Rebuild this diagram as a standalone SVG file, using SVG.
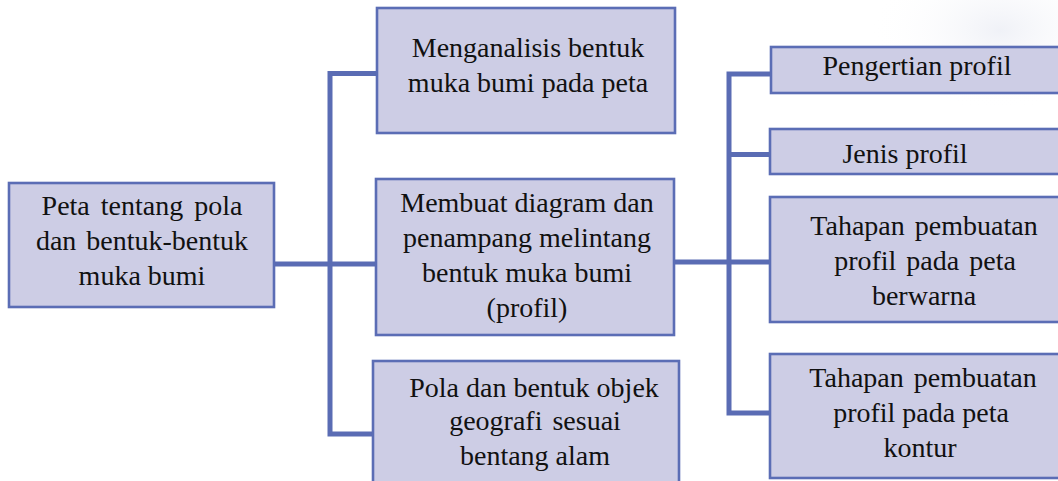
<svg xmlns="http://www.w3.org/2000/svg" width="1058" height="481" viewBox="0 0 1058 481">
<defs>
<radialGradient id="bg" cx="0.5" cy="0.5" r="0.5">
<stop offset="0" stop-color="#eceef5" stop-opacity="0.8"/>
<stop offset="1" stop-color="#ffffff" stop-opacity="0"/>
</radialGradient>
<style>
.box{fill:#cdcde5;stroke:#5b6db5;stroke-width:2.6}
.con{fill:none;stroke:#5a6cb4;stroke-width:5;stroke-linejoin:miter;stroke-linecap:butt}
</style>
</defs>
<rect width="1058" height="481" fill="#ffffff"/>
<ellipse cx="1000" cy="30" rx="130" ry="80" fill="url(#bg)"/>
<g id="connectors">
<path class="con" d="M274 264 H376"/>
<path class="con" d="M377 73.5 H330 V434 H373"/>
<path class="con" d="M674 262 H771"/>
<path class="con" d="M771 74 H729 V413 H771"/>
<path class="con" d="M729 154.5 H771"/>
</g>
<g font-family="Liberation Serif, serif" font-size="28" fill="#111111" text-anchor="middle">
<g id="n-root">
<rect class="box" x="9" y="183" width="265" height="124"/>
<text x="142" y="215" word-spacing="4">Peta tentang pola</text>
<text x="142" y="250" word-spacing="3">dan bentuk-bentuk</text>
<text x="142" y="285">muka bumi</text>
</g>
<g id="n-analisis">
<rect class="box" x="377" y="8" width="298" height="125"/>
<text x="528" y="57">Menganalisis bentuk</text>
<text x="528" y="92">muka bumi pada peta</text>
</g>
<g id="n-diagram">
<rect class="box" x="376" y="179" width="298" height="156"/>
<text x="527" y="212">Membuat diagram dan</text>
<text x="527" y="247">penampang melintang</text>
<text x="527" y="282">bentuk muka bumi</text>
<text x="527" y="317">(profil)</text>
</g>
<g id="n-pola">
<rect class="box" x="373" y="361" width="306" height="130"/>
<text x="534" y="397">Pola dan bentuk objek</text>
<text x="535" y="430" word-spacing="3">geografi sesuai</text>
<text x="535" y="465">bentang alam</text>
</g>
<g id="n-pengertian">
<rect class="box" x="771" y="47" width="300" height="46"/>
<text x="917" y="75">Pengertian profil</text>
</g>
<g id="n-jenis">
<rect class="box" x="770" y="129" width="300" height="45"/>
<text x="905" y="163">Jenis profil</text>
</g>
<g id="n-berwarna">
<rect class="box" x="770" y="197" width="300" height="125"/>
<text x="924" y="235" word-spacing="3">Tahapan pembuatan</text>
<text x="925" y="270" word-spacing="3">profil pada peta</text>
<text x="924" y="305">berwarna</text>
</g>
<g id="n-kontur">
<rect class="box" x="770" y="354" width="300" height="124"/>
<text x="923" y="387" word-spacing="3">Tahapan pembuatan</text>
<text x="921" y="422">profil pada peta</text>
<text x="920" y="457">kontur</text>
</g>
</g>
</svg>
